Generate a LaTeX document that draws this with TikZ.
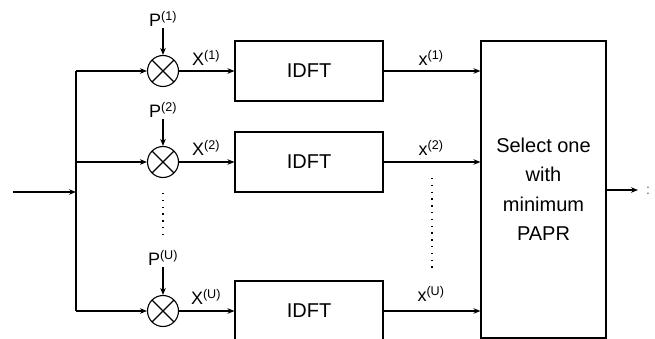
\documentclass[tikz,border=0pt]{standalone}
\usepackage{fontspec}
\setmainfont{Liberation Sans}
\usetikzlibrary{arrows.meta}
\begin{document}
\begin{tikzpicture}[x=1pt,y=-1pt,
  line width=1.1pt,
  arr/.style={-{Stealth[length=7pt,width=5.5pt]}},
  mult/.style={circle,draw,minimum size=31pt,inner sep=0pt,
    path picture={\draw (path picture bounding box.north west) -- (path picture bounding box.south east)
      (path picture bounding box.north east) -- (path picture bounding box.south west);}},
  blockbox/.style={draw,minimum width=148pt,minimum height=60pt,inner sep=0pt,font=\fontsize{20}{24}\selectfont},
  lbl/.style={inner sep=1pt,font=\fontsize{18}{20}\selectfont},
  dots/.style={line width=1.3pt,dash pattern=on 1.3pt off 5.5pt}
]
\useasboundingbox (0,0) rectangle (655,339);
\clip (0,0) rectangle (655,339);

% input and distribution bus
\coordinate (in) at (13,192);
\coordinate (j) at (76,192);
\coordinate (b1) at (76,71);
\coordinate (b2) at (76,162);
\coordinate (bU) at (76,311);
\draw[arr] (in) -- (j);
\draw (b1) -- (bU);

% phase-sequence multipliers
\node[mult] (m1) at (163,71) {};
\node[mult] (m2) at (163,162) {};
\node[mult] (mU) at (163,311) {};
\draw[arr] (b1) -- (m1);
\draw[arr] (b2) -- (m2);
\draw[arr] (bU) -- (mU);

\node[lbl] (p1) at (163,19) {P\textsuperscript{(1)}};
\node[lbl] (p2) at (163,110) {P\textsuperscript{(2)}};
\node[lbl] (pU) at (163,258) {P\textsuperscript{(U)}};
\draw[arr] (p1.south) -- (m1.north);
\draw[arr] (p2.south) -- (m2.north);
\draw[arr] (pU.south) -- (mU.north);

\coordinate (d1a) at (163,193);
\coordinate (d1b) at (163,240);
\draw[dots] (d1a) -- (d1b);

% IDFT blocks
\node[blockbox] (f1) at (309,71) {IDFT};
\node[blockbox] (f2) at (309,162) {IDFT};
\node[blockbox] (fU) at (309,311) {IDFT};
\draw[arr] (m1) -- (f1);
\draw[arr] (m2) -- (f2);
\draw[arr] (mU) -- (fU);
\node[lbl] (X1) at (206,58) {X\textsuperscript{(1)}};
\node[lbl] (X2) at (206,148) {X\textsuperscript{(2)}};
\node[lbl] (XU) at (206,297) {X\textsuperscript{(U)}};

% selection block
\node[draw,minimum width=125pt,minimum height=297pt,inner sep=0pt,align=center,
  font=\fontsize{20}{29.5}\selectfont] (sel) at (543.5,189.5)
  {Select one\\with\\minimum\\PAPR};
\draw[arr] (f1.east) -- (f1.east -| sel.west);
\draw[arr] (f2.east) -- (f2.east -| sel.west);
\draw[arr] (fU.east) -- (fU.east -| sel.west);
\node[lbl] (x1) at (431,58) {x\textsuperscript{(1)}};
\node[lbl] (x2) at (431,148) {x\textsuperscript{(2)}};
\node[lbl] (xU) at (431,294) {x\textsuperscript{(U)}};

\coordinate (d2a) at (432,178);
\coordinate (d2b) at (432,268);
\draw[dots] (d2a) -- (d2b);

% output
\coordinate (out) at (638,190);
\draw[arr] (sel.east |- out) -- (out);
\node[lbl,font=\fontsize{14}{16}\selectfont,text=black!60] (colon) at (648,191) {:};
\end{tikzpicture}
\end{document}
